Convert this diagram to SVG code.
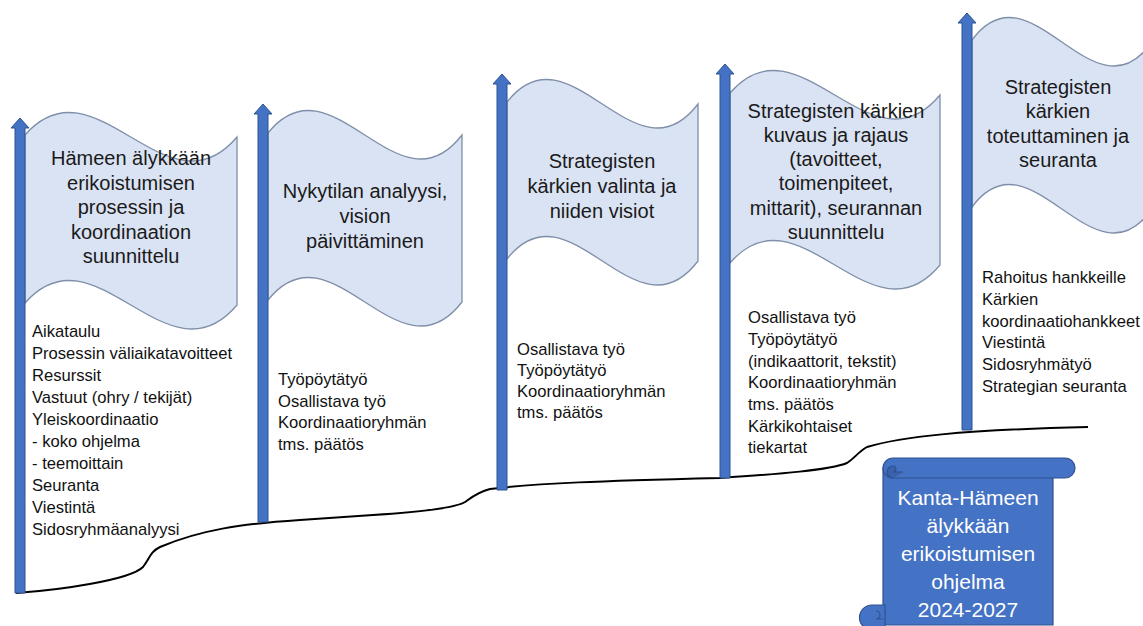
<svg xmlns="http://www.w3.org/2000/svg" width="1143" height="626" viewBox="0 0 1143 626">
<style>
.flag{fill:#DAE3F3;stroke:#7F8FA9;stroke-width:1.3}
.pole{fill:#4472C4;stroke:#2F528F;stroke-width:1}
.ttl{font-family:"Liberation Sans",Arial,sans-serif;font-size:20px;fill:#1a1a1a;text-anchor:middle}
.lst{font-family:"Liberation Sans",Arial,sans-serif;font-size:16.6px;fill:#111}
.scr{fill:#4472C4;stroke:#2F528F;stroke-width:1.2}
.scrt{font-family:"Liberation Sans",Arial,sans-serif;font-size:21px;fill:#fff;text-anchor:middle}
</style>
<rect width="1143" height="626" fill="#fff"/>
<g id="connectors">
<path d="M16,593 C60,590 130,580 143,567 C150,558 150,552 160,547 C200,530 240,524 300,520 L373,515 C420,512 455,508 465,502 C472,497 478,492 490,489 C540,483 600,481 720,478 C780,474 830,470 847,463 C855,458 858,452 867,447 C900,437 960,430 1088,427" fill="none" stroke="#000" stroke-width="2"/>
</g>
<g id="step1">
<path class="flag" d="M25,135 C95,55 167,220 237,137 L237,305 C167,388 95,223 25,303 Z"/>
<path class="pole" d="M20,118 L29,128 L25,128 L25,593 L15,593 L15,128 L11,128 Z"/>
<text class="ttl"><tspan x="131" y="165">Hämeen älykkään</tspan><tspan x="131" y="189.5">erikoistumisen</tspan><tspan x="131" y="214">prosessin ja</tspan><tspan x="131" y="238.5">koordinaation</tspan><tspan x="131" y="263">suunnittelu</tspan></text>
<text class="lst"><tspan x="32" y="337">Aikataulu</tspan><tspan x="32" y="359">Prosessin väliaikatavoitteet</tspan><tspan x="32" y="381">Resurssit</tspan><tspan x="32" y="403">Vastuut (ohry / tekijät)</tspan><tspan x="32" y="425">Yleiskoordinaatio</tspan><tspan x="32" y="447">- koko ohjelma</tspan><tspan x="32" y="469">- teemoittain</tspan><tspan x="32" y="491">Seuranta</tspan><tspan x="32" y="513">Viestintä</tspan><tspan x="32" y="535">Sidosryhmäanalyysi</tspan></text>
</g>
<g id="step2">
<path class="flag" d="M268,133 C332,53 398,218 462,135 L462,302 C398,385 332,220 268,300 Z"/>
<path class="pole" d="M263,104 L272,114 L268,114 L268,522 L258,522 L258,114 L254,114 Z"/>
<text class="ttl"><tspan x="365" y="198">Nykytilan analyysi,</tspan><tspan x="365" y="223">vision</tspan><tspan x="365" y="248">päivittäminen</tspan></text>
<text class="lst"><tspan x="278" y="385">Työpöytätyö</tspan><tspan x="278" y="407">Osallistava työ</tspan><tspan x="278" y="428">Koordinaatioryhmän</tspan><tspan x="278" y="450">tms. päätös</tspan></text>
</g>
<g id="step3">
<path class="flag" d="M507,102 C570,22 635,187 698,104 L698,261 C635,344 570,179 507,259 Z"/>
<path class="pole" d="M502,74 L511,84 L507,84 L507,490 L497,490 L497,84 L493,84 Z"/>
<text class="ttl"><tspan x="602" y="168">Strategisten</tspan><tspan x="602" y="193">kärkien valinta ja</tspan><tspan x="602" y="218">niiden visiot</tspan></text>
<text class="lst"><tspan x="517" y="355">Osallistava työ</tspan><tspan x="517" y="376">Työpöytätyö</tspan><tspan x="517" y="397">Koordinaatioryhmän</tspan><tspan x="517" y="418">tms. päätös</tspan></text>
</g>
<g id="step4">
<path class="flag" d="M730,93 C799,13 871,178 940,95 L940,265 C871,348 799,183 730,263 Z"/>
<path class="pole" d="M725,64 L734,74 L730,74 L730,478 L720,478 L720,74 L716,74 Z"/>
<text class="ttl"><tspan x="836" y="118">Strategisten kärkien</tspan><tspan x="836" y="142">kuvaus ja rajaus</tspan><tspan x="836" y="166">(tavoitteet,</tspan><tspan x="836" y="190">toimenpiteet,</tspan><tspan x="836" y="215">mittarit), seurannan</tspan><tspan x="836" y="239">suunnittelu</tspan></text>
<text class="lst"><tspan x="748" y="323">Osallistava työ</tspan><tspan x="748" y="345">Työpöytätyö</tspan><tspan x="748" y="367">(indikaattorit, tekstit)</tspan><tspan x="748" y="388">Koordinaatioryhmän</tspan><tspan x="748" y="410">tms. päätös</tspan><tspan x="748" y="432">Kärkikohtaiset</tspan><tspan x="748" y="453">tiekartat</tspan></text>
</g>
<g id="step5">
<path class="flag" d="M972,40 C1031,-40 1093,125 1152,42 L1152,209 C1093,292 1031,127 972,207 Z"/>
<path class="pole" d="M967,13 L976,23 L972,23 L972,430 L962,430 L962,23 L958,23 Z"/>
<text class="ttl"><tspan x="1058" y="94">Strategisten</tspan><tspan x="1058" y="118">kärkien</tspan><tspan x="1058" y="143">toteuttaminen ja</tspan><tspan x="1058" y="167">seuranta</tspan></text>
<text class="lst"><tspan x="982" y="283">Rahoitus hankkeille</tspan><tspan x="982" y="305">Kärkien</tspan><tspan x="982" y="327">koordinaatiohankkeet</tspan><tspan x="982" y="348">Viestintä</tspan><tspan x="982" y="370">Sidosryhmätyö</tspan><tspan x="982" y="392">Strategian seuranta</tspan></text>
</g>
<g id="scroll">
<path class="scr" d="M883,468 L1053,468 L1053,625 L883,625 Z"/>
<path class="scr" d="M872,605 L885,605 L885,630 L872,630 A12.5,12.5 0 0 1 872,605 Z"/>
<path class="scr" d="M876,611 A4,4 0 0 1 876,619 L883,619" fill="#3A62AB"/>
<path class="scr" d="M893,458 L1065,458 A10,10 0 0 1 1065,478 L893,478 A10,10 0 0 1 893,458 Z"/>
<path d="M893,478 A6,6 0 0 1 893,466 A3,3 0 0 1 893,472 L903,472" fill="#3A62AB" stroke="#2F528F" stroke-width="1.2"/>
<text class="scrt"><tspan x="968" y="505">Kanta-Hämeen</tspan><tspan x="968" y="533">älykkään</tspan><tspan x="968" y="561">erikoistumisen</tspan><tspan x="968" y="589">ohjelma</tspan><tspan x="968" y="617">2024-2027</tspan></text>
</g>
</svg>
